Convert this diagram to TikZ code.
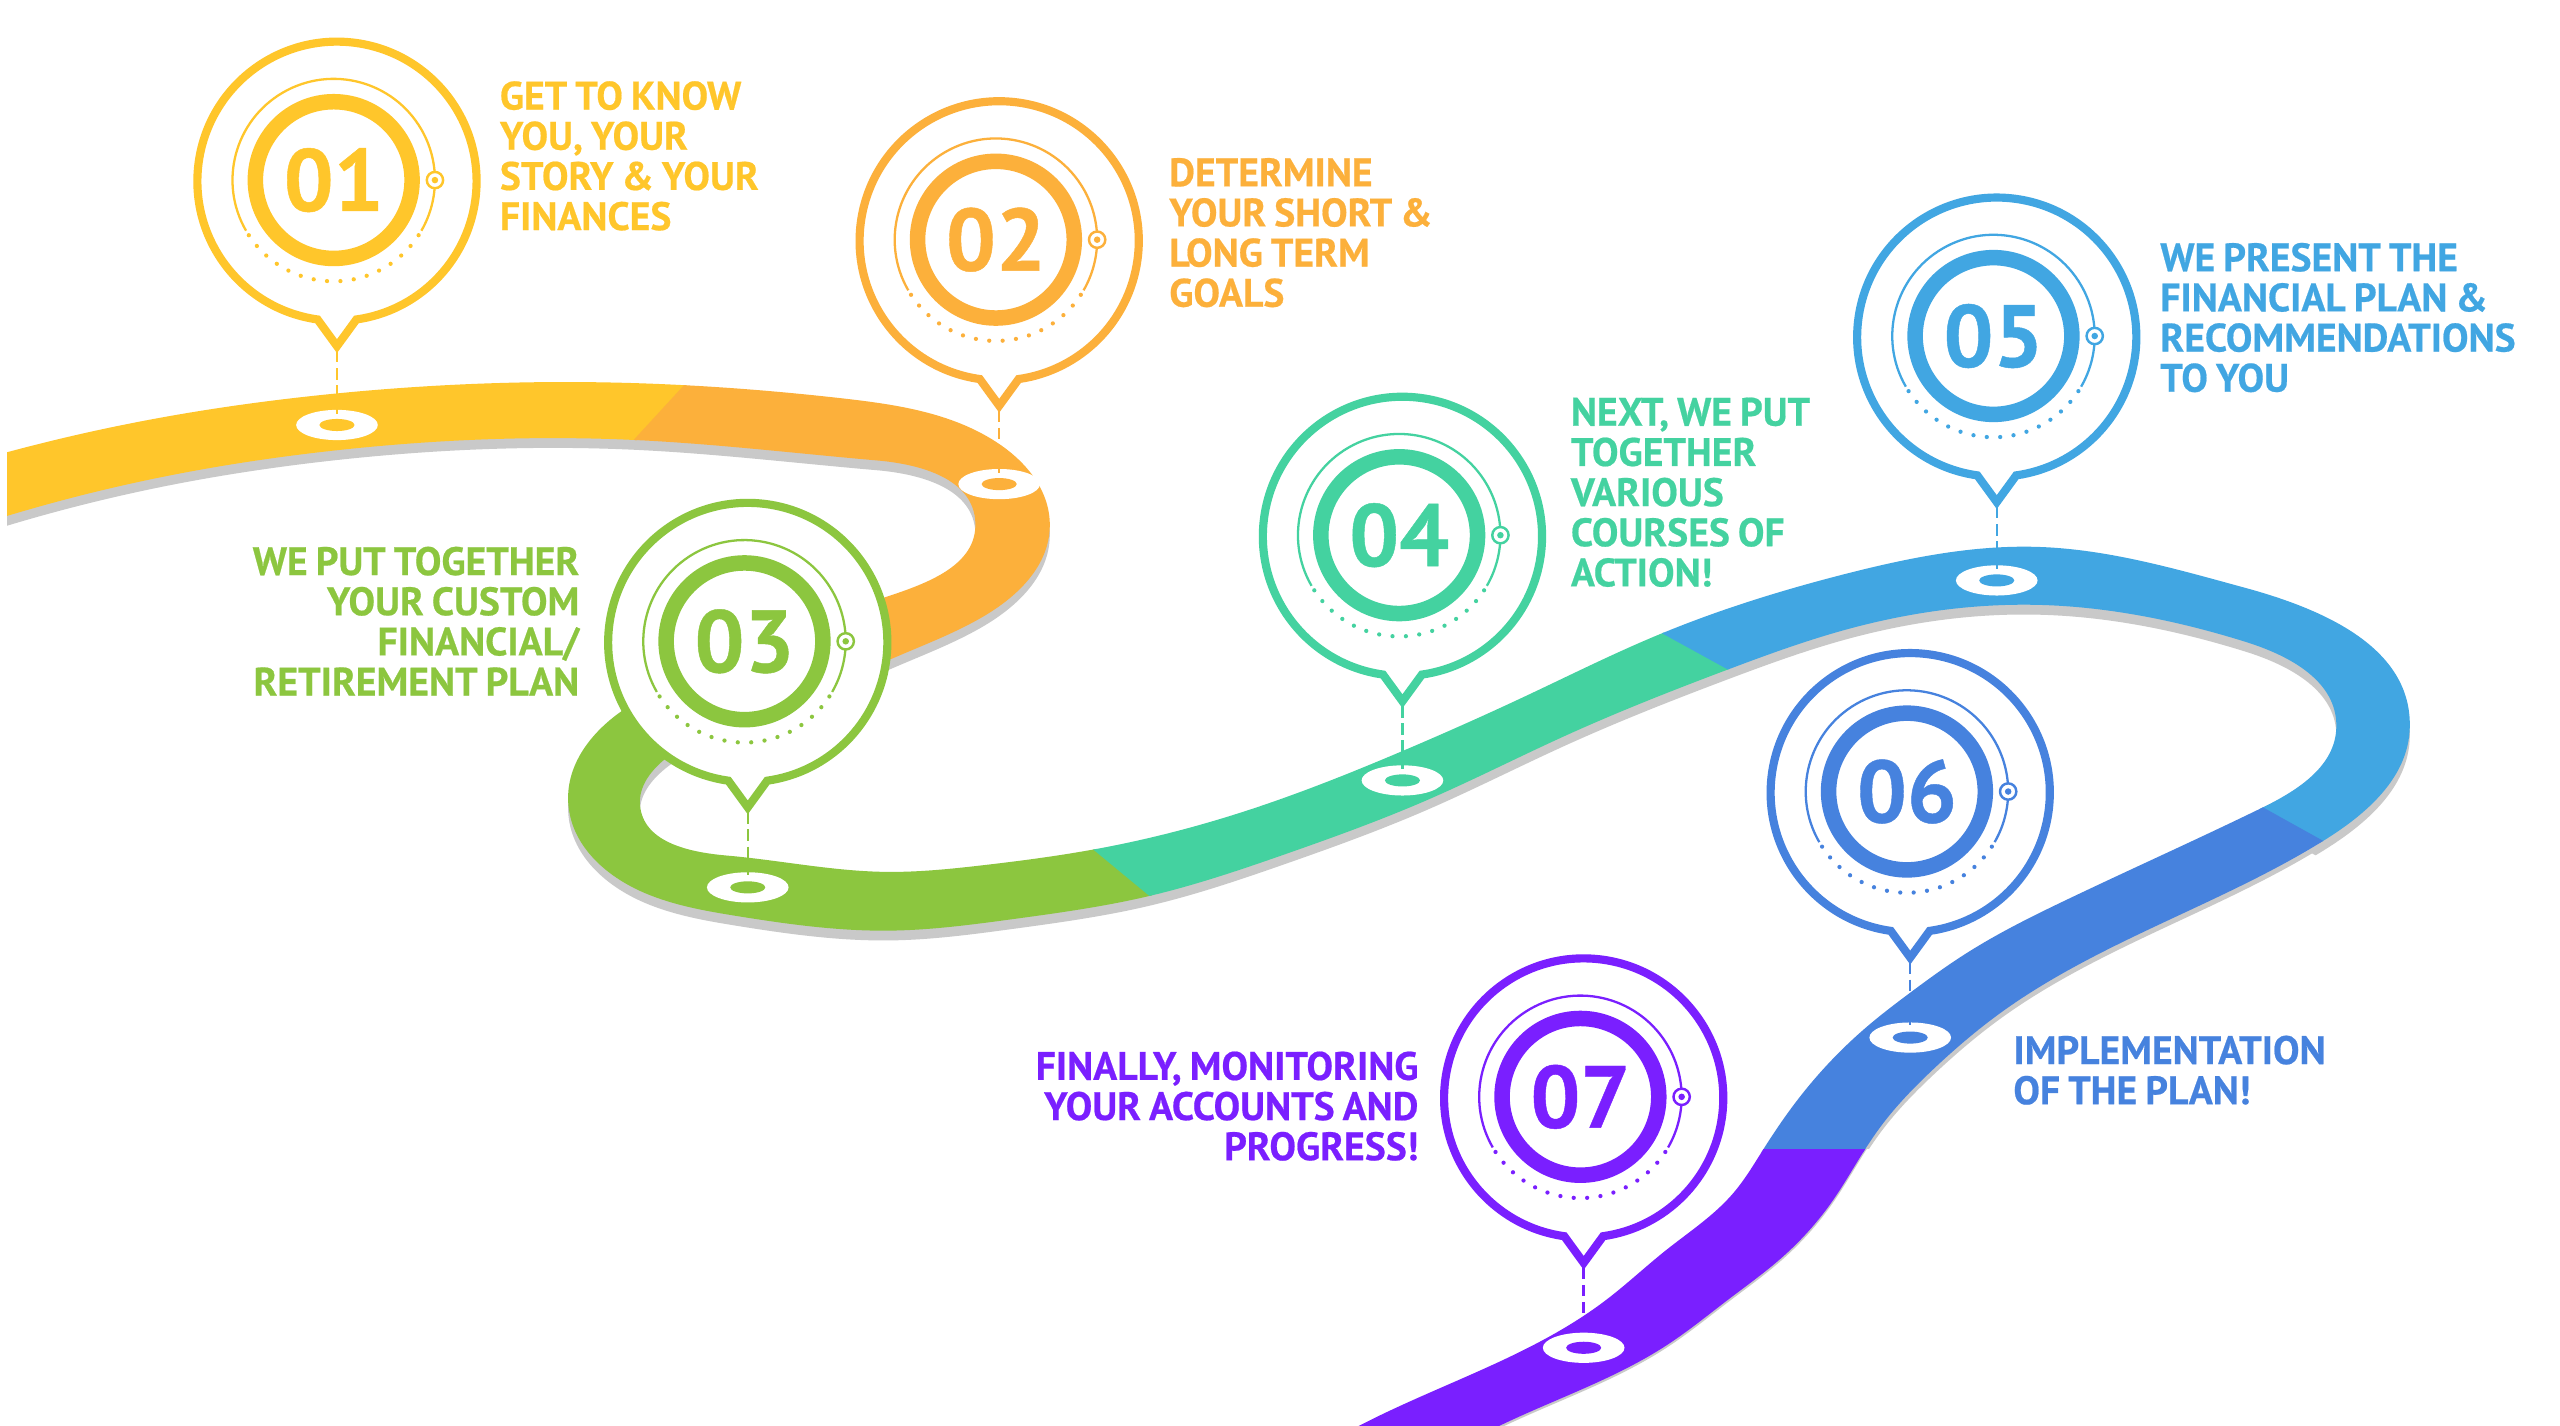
\documentclass[tikz,border=0pt]{standalone}
\usepackage{fontspec}
\setmainfont[WordSpace=0.8,BoldFeatures={FakeBold=0.5}]{PT Sans}
\usetikzlibrary{shapes.geometric,hobby}
\definecolor{cOne}{HTML}{FFC62B}
\definecolor{cTwo}{HTML}{FCB03B}
\definecolor{cThree}{HTML}{8CC63F}
\definecolor{cFour}{HTML}{44D2A0}
\definecolor{cFive}{HTML}{41A6E2}
\definecolor{cSix}{HTML}{4682DE}
\definecolor{cSeven}{HTML}{7A1FFF}
\definecolor{cShadow}{HTML}{C9C9C9}
% outline of the road, upper edge and back along the lower edge
\newcommand{\roadpath}{(4.3,277) .. (92,257) .. (206,241) .. (352,234) .. (516,244) .. (610,270.6) .. (643,322) .. (601.6,378) .. (545,404) .. (470,437) .. (406,466) .. (392,493) .. (445,524) .. (541.5,534) .. (601.6,530) .. (673.6,519.6) .. (759,498) .. (859,460) .. (936,425.6) .. (1016,388.7) .. (1130,351.6) .. (1249,335) .. (1375,360) .. (1476,445) .. (1423,515) .. (1286,584) .. (1225,620.6) .. (1184,655) .. (1153.4,688) .. (1142.3,704) .. (1122.8,735) .. (1092,769.7) .. (1058.5,796) .. (1021.5,823.5) .. (919,873) .. (905,880)
  -- (820,880) .. (833,873) .. (984,796) .. (1020.6,765.6) .. (1061.6,730.8) .. (1080,704) .. (1102.5,671.7) .. (1143.3,629) .. (1170,608) .. (1204.5,583.8) .. (1266,551) .. (1385,495) .. (1431,445) .. (1375,393) .. (1249,370.5) .. (1130,385.8) .. (1058.5,410) .. (958.8,450.6) .. (873,490.5) .. (787.7,523) .. (703,549) .. (620,563) .. (545,570) .. (451,561) .. (395,547) .. (348,491) .. (380.4,435.8) .. (460,401) .. (542.4,365.7) .. (597.4,320) .. (537,282) .. (389,269.5) .. (206,275.8) .. (100,292) .. (4.3,316) -- cycle}
\newcommand{\roadpart}[2]{\begin{scope}\clip #2 -- cycle; \fill[#1,use Hobby shortcut] \roadpath; \end{scope}}
% one stop: id, colour, x, y, y of the marker
\newcommand{\stoppin}[5]{%
  \node[marker] (mark#1) at (#3,#5) {};
  \node[hole,fill=#2] (hole#1) at (#3,#5) {};
  \coordinate (tip#1) at (#3,#4+101);
  \draw[dashline,#2] (tip#1) -- (hole#1.center);
  \draw[pinbody,draw=#2] (#3,#4) ++(98:85.5) arc (98:442:85.5) -- (tip#1) -- cycle;
  \coordinate (ctr#1) at (#3-2,#4-0.7);
  \draw[#2,line width=1.4] (ctr#1) ++(150:62) arc (150:390:62);
  \foreach \a in {33,40.6,...,148} \fill[#2] (ctr#1) ++(\a:62) circle[radius=1.3];
  \node[target,draw=#2] (aim#1) at (#3+60,#4-0.7) {};
  \fill[#2] (aim#1) circle[radius=2];
  \node[ringnum,#2] (num#1) at (ctr#1) {0#1};
}
\begin{document}
\begin{tikzpicture}[x=1pt,y=-1pt,
	marker/.style={ellipse,fill=white,minimum width=50,minimum height=18.5,inner sep=0},
	hole/.style={ellipse,minimum width=21.5,minimum height=7.4,inner sep=0},
	dashline/.style={line width=1.5,dash pattern=on 7 off 3.5,shorten <=3,shorten >=7},
	pinbody/.style={line width=5,fill=white,miter limit=10},
	target/.style={circle,draw,fill=white,line width=1.5,minimum size=10,inner sep=0},
	ringnum/.style={circle,draw,line width=9.5,minimum size=96,inner sep=0,font=\fontsize{54}{54}\selectfont\bfseries},
	lbl/.style={font=\fontsize{24.3}{24.6}\selectfont\bfseries,inner sep=0},
	lblR/.style={lbl,align=left,anchor=west},
	lblL/.style={lbl,align=right,anchor=east}
	]
  \useasboundingbox (0,0) rectangle (1568,873.4);
  \fill[white] (0,0) rectangle (1568,873.4);
  % shadow under the road
  \begin{scope}[yshift=-6]
  \roadpart{cShadow}{(0,200) -- (1568,200) -- (1568,600) -- (1342,476) -- (1000,600) -- (0,600)}
  \end{scope}
  \begin{scope}[yshift=-3.5]
  \roadpart{cShadow}{(800,470) -- (1568,470) -- (1568,700) -- (800,700)}
  \end{scope}
  \begin{scope}[yshift=-1.5]
  \roadpart{cShadow}{(800,700) -- (1568,700) -- (1568,880) -- (800,880)}
  \end{scope}
  % the road, piece by piece
  \roadpart{cOne}{(0,200) -- (454,200) -- (362,300) -- (0,350)}
  \roadpart{cTwo}{(452,200) -- (700,200) -- (700,500) -- (480,500) -- (480,320) -- (360,300)}
  \roadpart{cThree}{(300,400) -- (480,400) -- (480,500) -- (647,500) -- (768,600) -- (300,600)}
  \roadpart{cFour}{(645,500) -- (951,350) -- (1133,450) -- (766,600)}
  \roadpart{cFive}{(949,350) -- (1000,300) -- (1520,300) -- (1520,571) -- (1342,472) -- (1131,450)}
  \roadpart{cSix}{(1342,470) -- (1520,569) -- (1520,706) -- (1000,706) -- (1000,600) -- (1200,470)}
  \roadpart{cSeven}{(800,704) -- (1300,704) -- (1300,880) -- (800,880)}
  % the stops
  \stoppin{1}{cOne}{206.4}{111}{260.3}
  \stoppin{2}{cTwo}{612}{147.5}{296.5}
  \stoppin{3}{cThree}{458}{393.5}{543.5}
  \stoppin{4}{cFour}{859}{328.5}{478}
  \stoppin{5}{cFive}{1223}{206.5}{355.5}
  \stoppin{6}{cSix}{1170}{485.5}{635.5}
  \stoppin{7}{cSeven}{970}{672.5}{825.5}
  % the texts
  \node[lblR,cOne] (txt1) at (306,95.5) {GET TO KNOW\\YOU, YOUR\\STORY \& YOUR\\FINANCES};
  \node[lblR,cTwo] (txt2) at (716,142.5) {DETERMINE\\YOUR SHORT \&\\LONG TERM\\GOALS};
  \node[lblL,cThree] (txt3) at (355,380.5) {WE PUT TOGETHER\\YOUR CUSTOM\\FINANCIAL/\\RETIREMENT PLAN};
  \node[lblR,cFour] (txt4) at (962,301.5) {NEXT, WE PUT\\TOGETHER\\VARIOUS\\COURSES OF\\ACTION!};
  \node[lblR,cFive] (txt5) at (1323,194.5) {WE PRESENT THE\\FINANCIAL PLAN \&\\RECOMMENDATIONS\\TO YOU};
  \node[lblR,cSix] (txt6) at (1233,655.5) {IMPLEMENTATION\\OF THE PLAN!};
  \node[lblL,cSeven] (txt7) at (869,677.5) {FINALLY, MONITORING\\YOUR ACCOUNTS AND\\PROGRESS!};
\end{tikzpicture}
\end{document}
